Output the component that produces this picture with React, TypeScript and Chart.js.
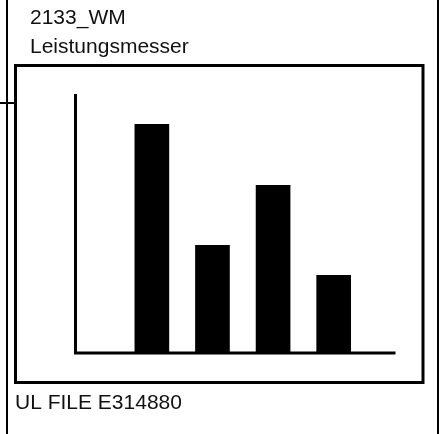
import React, { useEffect, useRef } from "react";
import { Chart, registerables } from "chart.js";

Chart.register(...registerables);

// ---- data ----
const barPositions = [1, 2, 3, 4];
const barValues = [88.3, 41.6, 64.7, 30.0];
const titleLines = ["2133_WM", "Leistungsmesser"];
const footerText = "UL FILE E314880";

const FONT = '21px "Liberation Sans", Arial, sans-serif';

const framePlugin = {
  id: "frame",
  beforeDraw(chart: any) {
    const { ctx, width, height } = chart;
    ctx.save();
    ctx.fillStyle = "#ffffff";
    ctx.fillRect(0, 0, width, height);
    ctx.strokeStyle = "#000000";
    // outer vertical rails
    ctx.lineWidth = 2;
    ctx.beginPath();
    ctx.moveTo(7, 0);
    ctx.lineTo(7, height);
    ctx.moveTo(438, 0);
    ctx.lineTo(438, height);
    // small connector tick
    ctx.moveTo(0, 103);
    ctx.lineTo(15, 103);
    ctx.stroke();
    // inner box
    ctx.lineWidth = 3;
    ctx.strokeRect(15.5, 65.5, 423 - 15.5, 382.5 - 65.5);
    // texts
    ctx.fillStyle = "#111111";
    ctx.font = FONT;
    ctx.textBaseline = "alphabetic";
    ctx.textAlign = "left";
    ctx.fillText(titleLines[0], 30, 24);
    ctx.fillText(titleLines[1], 30, 53);
    ctx.fillText(footerText, 15, 409);
    ctx.restore();
  },
  afterDatasetsDraw(chart: any) {
    const { ctx, chartArea } = chart;
    const { left, right, top, bottom } = chartArea;
    ctx.save();
    ctx.strokeStyle = "#000000";
    ctx.lineWidth = 3;
    ctx.lineCap = "butt";
    ctx.beginPath();
    ctx.moveTo(left, top);
    ctx.lineTo(left, bottom + 1.5);
    ctx.moveTo(left - 1.5, bottom);
    ctx.lineTo(right, bottom);
    ctx.stroke();
    ctx.restore();
  },
};

export default function App() {
  const canvasRef = useRef<HTMLCanvasElement | null>(null);

  useEffect(() => {
    if (!canvasRef.current) return;
    const chart = new Chart(canvasRef.current, {
      type: "bar",
      data: {
        datasets: [
          {
            data: barPositions.map((x, i) => ({ x, y: barValues[i] })),
            backgroundColor: "#000000",
            borderWidth: 0,
            barThickness: 34,
          },
        ],
      },
      options: {
        responsive: false,
        animation: false,
        devicePixelRatio: 1,
        layout: { padding: { left: 75.5, right: 47.5, top: 94, bottom: 81 } },
        plugins: {
          legend: { display: false },
          tooltip: { enabled: false },
          title: { display: false },
        },
        scales: {
          x: {
            type: "linear",
            min: -0.26,
            max: 5.02,
            offset: false,
            grid: { offset: false },
            display: false,
          },
          y: { type: "linear", min: 0, max: 100, display: false },
        },
      },
      plugins: [framePlugin],
    });
    return () => chart.destroy();
  }, []);

  return (
    <div style={{ position: "absolute", left: 0, top: 0, width: 443, height: 434, background: "#fff" }}>
      <canvas ref={canvasRef} width={443} height={434} style={{ display: "block" }} />
    </div>
  );
}
